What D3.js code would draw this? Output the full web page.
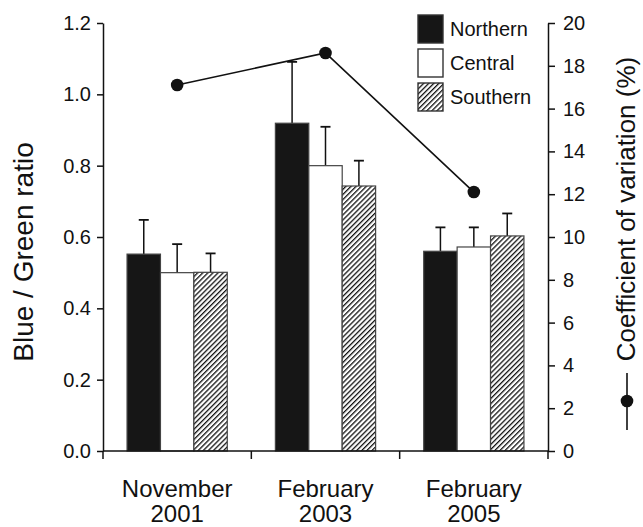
<!DOCTYPE html>
<html>
<head>
<meta charset="utf-8">
<script src="https://cdn.jsdelivr.net/npm/d3@7"></script>
<style>
  body { margin: 0; background: #fff; }
  svg { font-family: "Liberation Sans", Arial, sans-serif; }
</style>
</head>
<body>
<svg></svg>
<script>
const width = 643;
const height = 527;

// data
const categories = [["November", "2001"], ["February", "2003"], ["February", "2005"]];
const series = ["Northern", "Central", "Southern"];
const northern = [0.552, 0.919, 0.560];
const central = [0.500, 0.800, 0.572];
const southern = [0.501, 0.743, 0.603];
const northernErr = [0.096, 0.172, 0.067];
const centralErr = [0.080, 0.109, 0.055];
const southernErr = [0.053, 0.071, 0.063];
const cv = [17.1, 18.6, 12.1];
const leftTicks = [0, 0.2, 0.4, 0.6, 0.8, 1.0, 1.2];
const rightTicks = [0, 2, 4, 6, 8, 10, 12, 14, 16, 18, 20];

const margin = { top: 23, right: 95, bottom: 76, left: 103 };
const ink = "#111";

const svg = d3.select("svg").attr("width", width).attr("height", height);

const defs = svg.append("defs");
const pat = defs.append("pattern")
  .attr("id", "hatch")
  .attr("patternUnits", "userSpaceOnUse")
  .attr("width", 3.6).attr("height", 3.6)
  .attr("patternTransform", "rotate(45)");
pat.append("rect").attr("width", 3.6).attr("height", 3.6).attr("fill", "#fff");
pat.append("line").attr("x1", 0).attr("y1", 0).attr("x2", 0).attr("y2", 3.6)
  .attr("stroke", "#111").attr("stroke-width", 2.6);

const fills = { Northern: "#161616", Central: "#fff", Southern: "url(#hatch)" };

const x0 = d3.scaleBand()
  .domain(d3.range(categories.length))
  .range([margin.left, width - margin.right])
  .padding(0);

const x1 = d3.scaleBand()
  .domain(series)
  .range([0, x0.bandwidth()])
  .paddingInner(0)
  .paddingOuter(0.72);

const y = d3.scaleLinear().domain([0, 1.2]).range([height - margin.bottom, margin.top]);
const yR = d3.scaleLinear().domain([0, 20]).range([height - margin.bottom, margin.top]);

const rows = categories.map((c, i) => ({
  i,
  values: [
    { key: "Northern", v: northern[i], e: northernErr[i] },
    { key: "Central", v: central[i], e: centralErr[i] },
    { key: "Southern", v: southern[i], e: southernErr[i] },
  ],
}));

// error bars (upper only)
const g = svg.append("g").selectAll("g").data(rows).join("g")
  .attr("transform", d => `translate(${x0(d.i)},0)`);

const eb = g.selectAll("g.err").data(d => d.values).join("g").attr("class", "err");
eb.append("line")
  .attr("x1", d => x1(d.key) + x1.bandwidth() / 2)
  .attr("x2", d => x1(d.key) + x1.bandwidth() / 2)
  .attr("y1", d => y(d.v))
  .attr("y2", d => y(d.v + d.e))
  .attr("stroke", ink).attr("stroke-width", 1.5);
eb.append("line")
  .attr("x1", d => x1(d.key) + x1.bandwidth() / 2 - 5)
  .attr("x2", d => x1(d.key) + x1.bandwidth() / 2 + 5)
  .attr("y1", d => y(d.v + d.e))
  .attr("y2", d => y(d.v + d.e))
  .attr("stroke", ink).attr("stroke-width", 1.8);

g.selectAll("rect").data(d => d.values).join("rect")
  .attr("x", d => x1(d.key))
  .attr("width", x1.bandwidth())
  .attr("y", d => y(d.v))
  .attr("height", d => y(0) - y(d.v))
  .attr("fill", d => fills[d.key])
  .attr("stroke", "#444").attr("stroke-width", 1.2);

// axes
const axL = svg.append("g")
  .attr("transform", `translate(${margin.left},0)`)
  .call(d3.axisLeft(y).tickValues(leftTicks).tickFormat(d3.format(".1f")).tickSize(6).tickSizeOuter(0).tickPadding(6));

const axR = svg.append("g")
  .attr("transform", `translate(${width - margin.right},0)`)
  .call(d3.axisRight(yR).tickValues(rightTicks).tickSize(7).tickSizeOuter(0).tickPadding(8));

[axL, axR].forEach(a => {
  a.selectAll("path, line").attr("stroke", ink).attr("stroke-width", 1.5);
  a.selectAll("text").attr("fill", ink).style("font-size", "20px");
});

// x axis
const xa = svg.append("g");
xa.append("line")
  .attr("x1", margin.left).attr("x2", width - margin.right)
  .attr("y1", y(0)).attr("y2", y(0))
  .attr("stroke", ink).attr("stroke-width", 1.5);
const bounds = d3.range(categories.length).map(i => x0(i)).concat([x0.range()[1]]);
xa.selectAll("line.tick").data(bounds).join("line").attr("class", "tick")
  .attr("x1", d => d).attr("x2", d => d)
  .attr("y1", y(0)).attr("y2", y(0) + 8)
  .attr("stroke", ink).attr("stroke-width", 1.5);
const lab = xa.selectAll("text").data(categories).join("text")
  .attr("text-anchor", "middle")
  .attr("fill", ink)
  .style("font-size", "24px");
lab.append("tspan")
  .attr("x", (d, i) => x0(i) + x0.bandwidth() / 2)
  .attr("y", y(0) + 46)
  .text(d => d[0]);
lab.append("tspan")
  .attr("x", (d, i) => x0(i) + x0.bandwidth() / 2)
  .attr("y", y(0) + 71)
  .text(d => d[1]);

// coefficient of variation line
const cx = i => x0(i) + x0.bandwidth() / 2;
svg.append("path")
  .datum(cv)
  .attr("fill", "none")
  .attr("stroke", ink).attr("stroke-width", 1.6)
  .attr("d", d3.line().x((d, i) => cx(i)).y(d => yR(d)));
svg.append("g").selectAll("circle").data(cv).join("circle")
  .attr("cx", (d, i) => cx(i))
  .attr("cy", d => yR(d))
  .attr("r", 6.3)
  .attr("fill", ink);

// axis titles
svg.append("text")
  .attr("transform", `translate(33,${(y(0) + y(1.2)) / 2 + 15}) rotate(-90)`)
  .attr("text-anchor", "middle")
  .attr("fill", ink)
  .style("font-size", "28px")
  .text("Blue / Green ratio");

svg.append("text")
  .attr("transform", `translate(635,209) rotate(-90)`)
  .attr("text-anchor", "middle")
  .attr("fill", ink)
  .style("font-size", "26px")
  .text("Coefficient of variation (%)");
svg.append("line")
  .attr("x1", 627).attr("x2", 627).attr("y1", 373).attr("y2", 430)
  .attr("stroke", ink).attr("stroke-width", 1.6);
svg.append("circle").attr("cx", 627).attr("cy", 401).attr("r", 6.3).attr("fill", ink);

// legend
const leg = svg.append("g").attr("transform", "translate(418,15)");
const li = leg.selectAll("g").data(series).join("g")
  .attr("transform", (d, i) => `translate(0,${i * 34})`);
li.append("rect")
  .attr("width", 25).attr("height", 28)
  .attr("fill", d => fills[d])
  .attr("stroke", "#333").attr("stroke-width", 1.4);
li.append("text")
  .attr("x", 32).attr("y", 21)
  .attr("fill", ink)
  .style("font-size", "20px")
  .text(d => d);
</script>
</body>
</html>
